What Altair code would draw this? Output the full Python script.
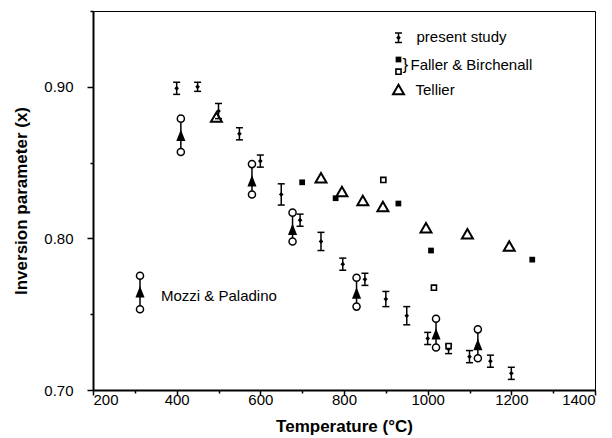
import altair as alt
import pandas as pd

# ---------------- data ----------------
# present study: temperature (°C), inversion parameter, error
ps_T = [400, 450, 500, 550, 600, 650, 695, 745, 797, 850, 900, 950, 1000, 1050, 1100, 1150, 1200]
ps_x = [0.899, 0.900, 0.884, 0.869, 0.851, 0.829, 0.812, 0.798, 0.783, 0.773, 0.760, 0.749,
        0.734, 0.727, 0.722, 0.719, 0.711]
ps_err = [0.004, 0.003, 0.005, 0.004, 0.004, 0.007, 0.004, 0.006, 0.004, 0.004, 0.005, 0.006,
          0.004, 0.003, 0.004, 0.004, 0.004]

# Mozzi & Paladino: triangle value with low / high circles
mp_T = [410, 580, 677, 830, 1020, 1120]
mp_x = [0.868, 0.838, 0.806, 0.764, 0.737, 0.730]
mp_lo = [0.857, 0.829, 0.798, 0.755, 0.728, 0.721]
mp_hi = [0.879, 0.849, 0.817, 0.774, 0.747, 0.740]

# Tellier (open triangles)
tel_T = [495, 745, 795, 845, 893, 996, 1095, 1195]
tel_x = [0.880, 0.840, 0.831, 0.825, 0.821, 0.807, 0.803, 0.795]

# Faller & Birchenall (filled and open squares)
fbf_T = [700, 780, 930, 1008, 1250]
fbf_x = [0.837, 0.8265, 0.823, 0.792, 0.786]
fbo_T = [894, 1015, 1050]
fbo_x = [0.8386, 0.7675, 0.729]

x_ticks = list(range(200, 1401, 100))
y_ticks = [0.70, 0.75, 0.80, 0.85, 0.90, 0.95]

FONT = "Liberation Sans"

ps = pd.DataFrame({"T": ps_T, "x": ps_x,
                   "lo": [v - e for v, e in zip(ps_x, ps_err)],
                   "hi": [v + e for v, e in zip(ps_x, ps_err)]})
mp = pd.DataFrame({"T": mp_T, "x": mp_x, "lo": mp_lo, "hi": mp_hi})
tel = pd.DataFrame({"T": tel_T, "x": tel_x})
fbf = pd.DataFrame({"T": fbf_T, "x": fbf_x})
fbo = pd.DataFrame({"T": fbo_T, "x": fbo_x})

xscale = alt.Scale(domain=[200, 1400], nice=False, zero=False)
yscale = alt.Scale(domain=[0.70, 0.95], nice=False, zero=False)

xaxis = alt.Axis(
    values=x_ticks, format="d",
    labelExpr="datum.value % 200 === 0 ? datum.label : ''",
    tickSize={"condition": {"test": "datum.value % 200 === 0", "value": 5}, "value": 3},
    tickWidth=1.5, tickColor="black",
    domainWidth=2, domainColor="black",
    labelFont=FONT, labelFontSize=15, labelColor="black", labelPadding=-3,
    title="Temperature (°C)", titleFont=FONT, titleFontSize=17, titleFontWeight="bold",
    titleColor="black", titlePadding=11, grid=False,
)
yaxis = alt.Axis(
    values=y_ticks, format=".2f",
    labelExpr="round(datum.value * 100) % 10 === 0 ? datum.label : ''",
    tickSize={"condition": {"test": "round(datum.value * 100) % 10 === 0", "value": 6}, "value": 3},
    tickWidth=1.5, tickColor="black",
    domainWidth=2, domainColor="black",
    labelFont=FONT, labelFontSize=15, labelColor="black", labelPadding=14,
    title="Inversion parameter (x)", titleFont=FONT, titleFontSize=17, titleFontWeight="bold",
    titleColor="black", titlePadding=13, grid=False,
)


def X(f="T"):
    return alt.X(f"{f}:Q", scale=xscale, axis=xaxis)


def Y(f="x"):
    return alt.Y(f"{f}:Q", scale=yscale, axis=yaxis)


TRI_TALL = "M0,-1L0.8,1L-0.8,1Z"

# Mozzi & Paladino
mp_rule = alt.Chart(mp).mark_rule(color="black", strokeWidth=1.5).encode(
    x=X(), y=Y("lo"), y2="hi:Q")
mp_lo_pt = alt.Chart(mp).mark_point(shape="circle", size=50, filled=True, fill="white",
                                    stroke="black", strokeWidth=1.5, opacity=1).encode(x=X(), y=Y("lo"))
mp_hi_pt = alt.Chart(mp).mark_point(shape="circle", size=50, filled=True, fill="white",
                                    stroke="black", strokeWidth=1.5, opacity=1).encode(x=X(), y=Y("hi"))
mp_tri = alt.Chart(mp).mark_point(shape=TRI_TALL, size=130, filled=True, color="black",
                                  opacity=1).encode(x=X(), y=Y("x"))

# present study
ps_rule = alt.Chart(ps).mark_rule(color="black", strokeWidth=1.5).encode(
    x=X(), y=Y("lo"), y2="hi:Q")
ps_cap_lo = alt.Chart(ps).mark_tick(orient="horizontal", size=7, thickness=1.5,
                                    color="black", opacity=1).encode(x=X(), y=Y("lo"))
ps_cap_hi = alt.Chart(ps).mark_tick(orient="horizontal", size=7, thickness=1.5,
                                    color="black", opacity=1).encode(x=X(), y=Y("hi"))
ps_pt = alt.Chart(ps).mark_point(shape="diamond", size=22, filled=True, color="black",
                                 opacity=1).encode(x=X(), y=Y("x"))

# Tellier
tel_pt = alt.Chart(tel).mark_point(shape="triangle-up", size=120, filled=False, color="black",
                                   strokeWidth=2, opacity=1).encode(x=X(), y=Y("x"))

# Faller & Birchenall
fbf_pt = alt.Chart(fbf).mark_point(shape="square", size=33, filled=True, color="black",
                                   opacity=1).encode(x=X(), y=Y("x"))
fbo_pt = alt.Chart(fbo).mark_point(shape="square", size=26, filled=True, fill="white",
                                   stroke="black", strokeWidth=1.6, opacity=1).encode(x=X(), y=Y("x"))

# ---------------- in-plot legend ----------------
one = alt.Data(values=[{"k": 0}])
GX = 305.5


def txt(label, px, py, size=15):
    return alt.Chart(one).mark_text(text=label, align="left", baseline="middle", font=FONT,
                                    fontSize=size, color="black").encode(
        x=alt.value(px), y=alt.value(py))


leg_ps = [
    alt.Chart(one).mark_rule(color="black", strokeWidth=1.5).encode(
        x=alt.value(GX), y=alt.value(22), y2=alt.value(31.5)),
    alt.Chart(one).mark_tick(orient="horizontal", size=7, thickness=1.5, color="black",
                             opacity=1).encode(x=alt.value(GX), y=alt.value(22)),
    alt.Chart(one).mark_tick(orient="horizontal", size=7, thickness=1.5, color="black",
                             opacity=1).encode(x=alt.value(GX), y=alt.value(31.5)),
    alt.Chart(one).mark_point(shape="diamond", size=22, filled=True, color="black",
                              opacity=1).encode(x=alt.value(GX), y=alt.value(26.7)),
    txt("present study", 323.5, 25.7),
]
leg_fb = [
    alt.Chart(one).mark_point(shape="square", size=33, filled=True, color="black",
                              opacity=1).encode(x=alt.value(GX), y=alt.value(48.5)),
    alt.Chart(one).mark_point(shape="square", size=26, filled=True, fill="white", stroke="black",
                              strokeWidth=1.6, opacity=1).encode(x=alt.value(GX), y=alt.value(60.7)),
    txt("}", 309.5, 54, 17),
    txt("Faller & Birchenall", 317.5, 54),
]
leg_tel = [
    alt.Chart(one).mark_point(shape="triangle-up", size=120, filled=False, color="black",
                              strokeWidth=2, opacity=1).encode(x=alt.value(GX), y=alt.value(78.5)),
    txt("Tellier", 322.5, 79),
]
leg_mp = [
    alt.Chart(one).mark_rule(color="black", strokeWidth=1.5).encode(
        x=alt.value(47), y=alt.value(264.7), y2=alt.value(298.3)),
    alt.Chart(one).mark_point(shape=TRI_TALL, size=130, filled=True, color="black",
                              opacity=1).encode(x=alt.value(47), y=alt.value(280.7)),
    alt.Chart(one).mark_point(shape="circle", size=50, filled=True, fill="white", stroke="black",
                              strokeWidth=1.5, opacity=1).encode(x=alt.value(47), y=alt.value(264.7)),
    alt.Chart(one).mark_point(shape="circle", size=50, filled=True, fill="white", stroke="black",
                              strokeWidth=1.5, opacity=1).encode(x=alt.value(47), y=alt.value(298.3)),
    txt("Mozzi & Paladino", 68, 284.5),
]

chart = alt.layer(
    mp_rule, mp_lo_pt, mp_hi_pt, mp_tri,
    ps_rule, ps_cap_lo, ps_cap_hi, ps_pt,
    tel_pt, fbf_pt, fbo_pt,
    *leg_ps, *leg_fb, *leg_tel, *leg_mp,
).properties(
    width=502, height=379,
    autosize=alt.AutoSizeParams(type="none"),
    padding={"left": 85, "top": 3, "right": 9, "bottom": 48},
    background="white",
).configure_view(
    stroke="black", strokeWidth=1,
)

chart.save("out.html", embed_options={"renderer": "svg", "actions": False})
